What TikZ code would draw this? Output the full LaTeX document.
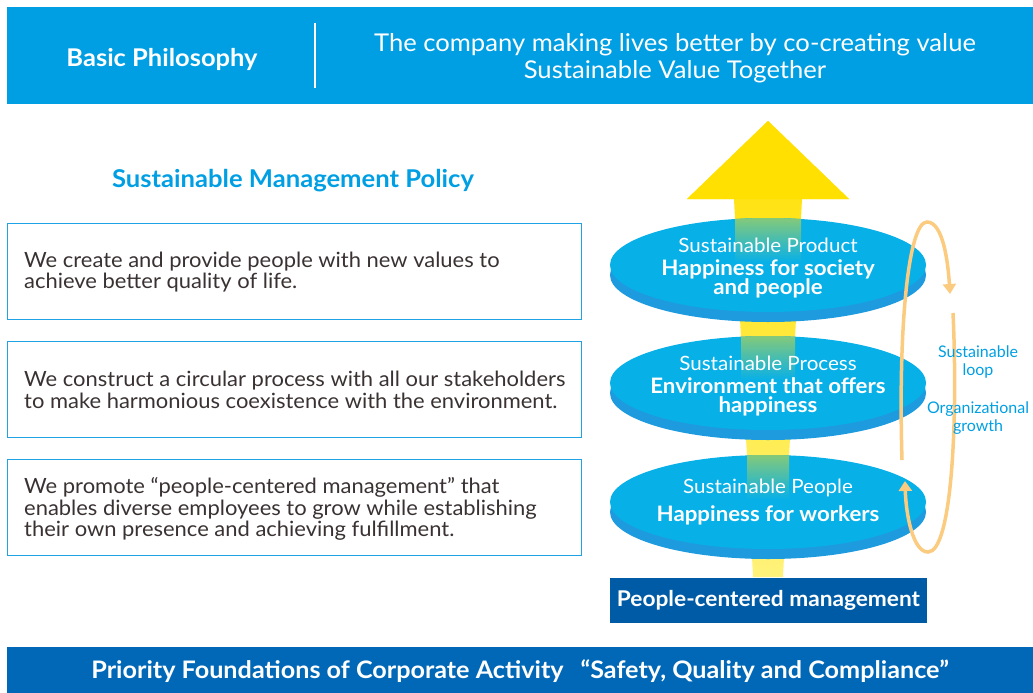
\documentclass[tikz,border=0pt]{standalone}
\usepackage{fontspec}
\setmainfont{Lato}[FakeStretch=1.045]
\newfontfamily\loopfont{Lato}
\usetikzlibrary{arrows.meta,shapes.geometric}
\definecolor{hdrblue}{HTML}{009FE3}
\definecolor{ftrblue}{HTML}{0068B7}
\definecolor{pcmblue}{HTML}{005BA6}
\definecolor{txtgray}{HTML}{3A3232}
\definecolor{boxline}{HTML}{1FA3E4}
\definecolor{elfill}{HTML}{08B0E8}
\definecolor{elrim}{HTML}{1E9BDF}
\definecolor{loopor}{HTML}{FBCB80}
\definecolor{arrY}{HTML}{FFE000}
\definecolor{arrYl}{HTML}{FFF27A}
\definecolor{grn}{HTML}{84C97A}
\begin{document}
\begin{tikzpicture}[x=1pt,y=-1pt,
  policybox/.style={draw=boxline,line width=1.2pt,minimum width=574pt,minimum height=96pt,anchor=north west,inner sep=0pt},
  policytext/.style={anchor=west,align=left,inner sep=0pt,text=txtgray,font=\fontsize{21}{21.5}\selectfont},
  face/.style={ellipse,fill=elfill,minimum width=316pt,minimum height=94pt,inner sep=0pt},
  rim/.style={ellipse,fill=elrim,minimum width=316pt,minimum height=94pt,inner sep=0pt},
  eltitle/.style={text=white,font=\fontsize{19.7}{20}\selectfont},
  elbody/.style={text=white,align=center,font=\bfseries\fontsize{21.3}{19.5}\selectfont},
  loopline/.style={draw=loopor,line width=3.5pt,-{Triangle[width=13pt,length=10pt]}},
  looptext/.style={text=hdrblue,align=center,font=\loopfont\fontsize{16}{18.5}\selectfont}]
\useasboundingbox (0,0) rectangle (1033,693);
% header
\fill[hdrblue] (7,7) rectangle (1033,104);
\draw[white,line width=1.5pt] (315,23) -- (315,88);
\node[text=white,font=\bfseries\fontsize{24.4}{26}\selectfont] (bp) at (162,59) {Basic Philosophy};
\node[text=white,align=center,font=\fontsize{24.5}{27}\selectfont] (bpt) at (675,58.5) {The company making lives better by co-creating value\\Sustainable Value Together};
% policy
\node[text=hdrblue,font=\bfseries\fontsize{24.5}{26}\selectfont] (smp) at (293,181) {Sustainable Management Policy};
\node[policybox] (b1) at (7,223) {};
\node[policybox] (b2) at (7,341) {};
\node[policybox] (b3) at (7,459) {};
\node[policytext] (t1) at (24,272) {We create and provide people with new values to\\achieve better quality of life.};
\node[policytext] (t2) at (24,390) {We construct a circular process with all our stakeholders\\to make harmonious coexistence with the environment.};
\node[policytext] (t3) at (24,509) {We promote “people-centered management” that\\enables diverse employees to grow while establishing\\their own presence and achieving fulfillment.};
% yellow arrow
\shade[top color=arrY,bottom color=arrYl] (753,577) -- (783,577) -- (802,199) -- (849,199) -- (768,121) -- (687,199) -- (734,199) -- cycle;
\fill[arrY] (768,121) -- (849,199) -- (687,199) -- cycle;
% ellipses
\node[rim] (r1) at (768,275) {};
\node[face] (e1) at (768,265) {};
\node[rim] (r2) at (768,393) {};
\node[face] (e2) at (768,383) {};
\node[rim] (r3) at (768,512) {};
\node[face] (e3) at (768,502) {};
\begin{scope}
\clip (768,265) ellipse [x radius=158,y radius=47];
\shade[top color=grn,bottom color=elfill] (735,218) rectangle (801,262);
\end{scope}
\begin{scope}
\clip (768,383) ellipse [x radius=158,y radius=47];
\shade[top color=grn,bottom color=elfill] (741,336) rectangle (795,380);
\end{scope}
\begin{scope}
\clip (768,502) ellipse [x radius=158,y radius=47];
\shade[top color=grn,bottom color=elfill] (747,455) rectangle (789,499);
\end{scope}
\node[eltitle] (p1) at (768,245) {Sustainable Product};
\node[elbody] (q1) at (768,279) {Happiness for society\\and people};
\node[eltitle] (p2) at (768,363) {Sustainable Process};
\node[elbody] (q2) at (768,397) {Environment that offers\\happiness};
\node[eltitle] (p3) at (768,488) {Sustainable People};
\node[elbody] (q3) at (768,515) {Happiness for workers};
% base box
\node[fill=pcmblue,minimum width=317pt,minimum height=45pt,inner sep=0pt,text=white,font=\bfseries\fontsize{21.7}{22}\selectfont] (pcm) at (768.5,600) {People-centered management};
% loop
\coordinate (l1s) at (902,460);
\coordinate (l1e) at (950,294);
\coordinate (l2s) at (953,313);
\coordinate (l2e) at (905,481);
\draw[loopline] (l1s) .. controls (898,330) and (908,222) .. (927,222) .. controls (943,222) and (948,262) .. (l1e);
\draw[loopline] (l2s) .. controls (958,420) and (952,552) .. (928,552) .. controls (913,552) and (906,515) .. (l2e);
\node[looptext] (sl) at (978,362) {Sustainable\\loop};
\node[looptext] (og) at (978,418) {Organizational\\growth};
% footer
\fill[ftrblue] (7,647) rectangle (1033,693);
\node[text=white,font=\bfseries\fontsize{24.1}{26}\selectfont] (ft) at (520,671) {Priority Foundations of Corporate Activity\hspace{0.7em}“Safety, Quality and Compliance”};
\end{tikzpicture}
\end{document}
